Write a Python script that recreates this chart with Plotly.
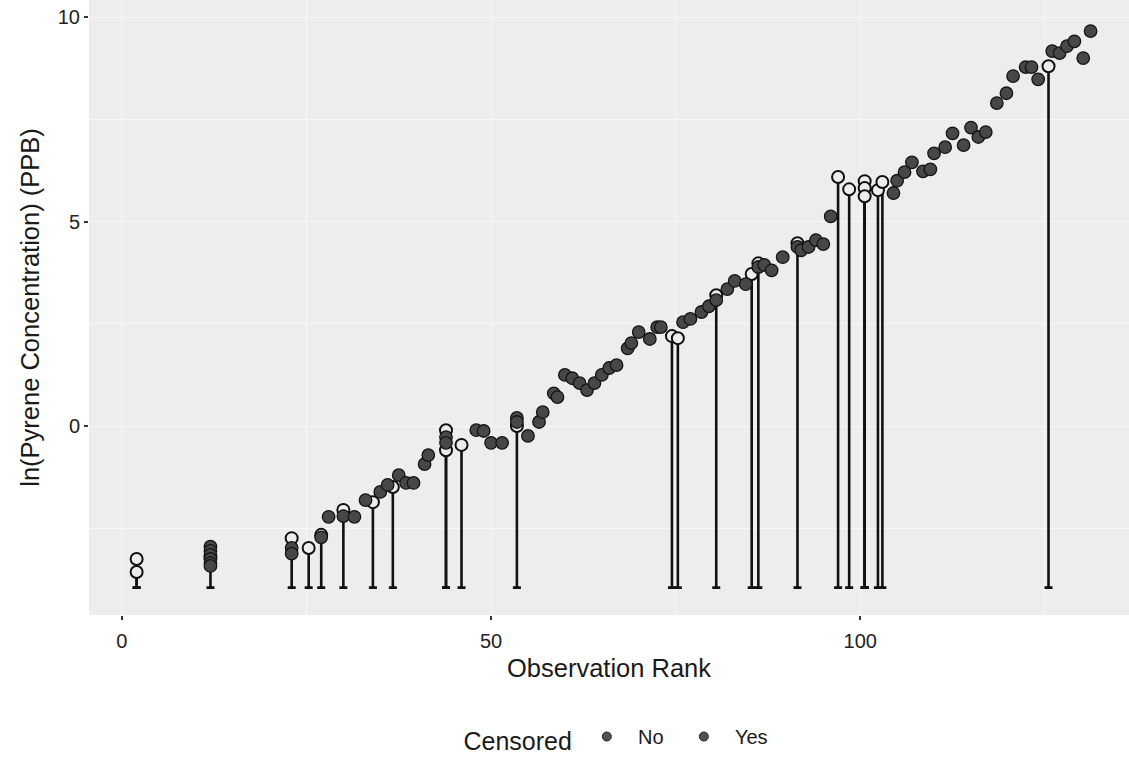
import plotly.graph_objects as go

# ---- data ----
rank = [2, 2,
        12, 12, 12, 12, 12, 12, 12,
        23, 23, 23, 25.3, 27, 27, 28, 30, 30, 31.5, 33, 34, 35, 36, 36.7, 37.5, 38.5, 39.5, 41, 41.5,
        43.9, 43.9, 43.9, 43.9, 46, 48, 49, 50, 51.5, 53.5, 53.5, 53.5, 55, 56.5, 57, 58.5, 59,
        60, 61, 62, 63, 64, 65, 66, 67, 68.5, 69, 70, 71.5, 72.5, 73, 74.5, 75.3, 76, 77, 78.5, 79.5,
        80.5, 80.5, 82, 83, 84.5, 85.3, 86.2, 86.2, 87, 88, 89.5, 91.5, 91.5, 92, 93, 94, 95, 96,
        97, 98.5, 100.6, 100.6, 100.6, 102.4, 103, 104.5, 105, 106, 107, 108.5, 109.5, 110, 111.5,
        112.5, 114, 115, 116, 117, 118.5, 119.8, 120.7, 122.4, 123.2, 124.1, 125.5, 126, 127, 128,
        129, 130.2, 131.2]
ln_conc = [-3.25, -3.57,
           -2.95, -3.05, -3.15, -3.25, -3.35, -3.42, -3.2,
           -2.74, -2.98, -3.12, -2.98, -2.66, -2.72, -2.22, -2.05, -2.2, -2.22, -1.81, -1.86, -1.61,
           -1.44, -1.49, -1.2, -1.39, -1.39, -0.93, -0.71,
           -0.1, -0.27, -0.41, -0.59, -0.46, -0.1, -0.12, -0.41, -0.41, 0.2, 0.1, 0.0, -0.24, 0.1,
           0.34, 0.8, 0.71,
           1.25, 1.17, 1.05, 0.88, 1.05, 1.25, 1.42, 1.49, 1.9, 2.03, 2.3, 2.13, 2.42, 2.42, 2.2,
           2.15, 2.54, 2.62, 2.79, 2.93,
           3.2, 3.08, 3.35, 3.55, 3.47, 3.72, 3.98, 3.89, 3.94, 3.81, 4.13, 4.47, 4.38, 4.3, 4.38,
           4.55, 4.45, 5.13,
           6.09, 5.79, 5.99, 5.82, 5.62, 5.77, 5.97, 5.7, 6.0, 6.21, 6.45, 6.23, 6.28, 6.67, 6.82,
           7.16, 6.87, 7.3, 7.07, 7.19, 7.9, 8.14, 8.56, 8.78, 8.78, 8.48, 8.8, 9.17, 9.12, 9.29,
           9.41, 9.0, 9.66]
censored = [1, 1,
            0, 0, 0, 0, 0, 0, 1,
            1, 0, 0, 1, 1, 0, 0, 1, 0, 0, 0, 1, 0, 0, 1, 0, 0, 0, 0, 0,
            1, 0, 0, 1, 1, 0, 0, 0, 0, 0, 0, 1, 0, 0, 0, 0, 0,
            0, 0, 0, 0, 0, 0, 0, 0, 0, 0, 0, 0, 0, 0, 1, 1, 0, 0, 0, 0,
            1, 0, 0, 0, 0, 1, 1, 0, 0, 0, 0, 1, 0, 0, 0, 0, 0, 0,
            1, 1, 1, 1, 1, 1, 1, 0, 0, 0, 0, 0, 0, 0, 0,
            0, 0, 0, 0, 0, 0, 0, 0, 0, 0, 0, 1, 0, 0, 0,
            0, 0, 0]
floor_value = -3.95  # lower end of censored intervals
legend_labels = ["No", "Yes"]
x_ticks = [0, 50, 100]
y_ticks = [0, 5, 10]

BG = "#ededed"
GRID = "#f7f7f7"
FONT = "Liberation Sans, Arial, Helvetica, sans-serif"
NB = "\u00a0"

cx = [r for r, c in zip(rank, censored) if c]
cy = [v for v, c in zip(ln_conc, censored) if c]
ux = [r for r, c in zip(rank, censored) if not c]
uy = [v for v, c in zip(ln_conc, censored) if not c]

fig = go.Figure()

# censored: open circles with interval down to the floor
fig.add_trace(go.Scatter(
    x=cx, y=cy, mode="markers", showlegend=False,
    marker=dict(size=12, color=BG, line=dict(color="#111111", width=2)),
    error_y=dict(type="data", symmetric=False,
                 array=[0] * len(cy),
                 arrayminus=[v - floor_value for v in cy],
                 color="#111111", thickness=2.6, width=4),
))
# uncensored: filled circles
fig.add_trace(go.Scatter(
    x=ux, y=uy, mode="markers", showlegend=False,
    marker=dict(size=12.5, color="#474747", line=dict(color="#141414", width=1.3)),
))
# legend entries
for lab in legend_labels:
    fig.add_trace(go.Scatter(
        x=[None], y=[None], mode="markers", name=NB * 2 + lab,
        marker=dict(size=9, color="#505050", line=dict(color="#222222", width=1)),
    ))

fig.update_layout(
    width=1129, height=759,
    margin=dict(l=89, r=0, t=0, b=144, autoexpand=False),
    paper_bgcolor="white", plot_bgcolor=BG,
    font=dict(family=FONT, color="#1a1a1a"),
    legend=dict(orientation="h", x=0.512, xanchor="center",
                yref="container", y=0.027, yanchor="middle",
                title=dict(text="Censored" + NB, font=dict(size=25)),
                font=dict(size=20), entrywidth=52, entrywidthmode="pixels",
                bgcolor="rgba(0,0,0,0)"),
    showlegend=True,
)
fig.update_xaxes(
    range=[-4.45, 136.4], tickvals=x_ticks, ticks="outside", ticklen=4, tickwidth=1.5,
    tickcolor="#333333", tickfont=dict(size=20, color="#222222"), ticklabelstandoff=4,
    showgrid=True, gridcolor=GRID, gridwidth=1.2, zeroline=False,
    minor=dict(tickvals=[25, 75, 125], showgrid=True, gridcolor=GRID, gridwidth=0.6, ticks=""),
    title=dict(text="Observation Rank", font=dict(size=25.5), standoff=8),
    showline=False, automargin=False,
)
fig.update_yaxes(
    range=[-4.62, 10.42], tickvals=y_ticks, ticks="outside", ticklen=4, tickwidth=1.5,
    tickcolor="#333333", tickfont=dict(size=20, color="#222222"),
    showgrid=True, gridcolor=GRID, gridwidth=1.2, zeroline=False,
    minor=dict(tickvals=[-2.5, 2.5, 7.5], showgrid=True, gridcolor=GRID, gridwidth=0.6, ticks=""),
    title=dict(text="ln(Pyrene Concentration) (PPB)", font=dict(size=25.5), standoff=10),
    showline=False, automargin=False,
)

fig.write_html("out.html")
